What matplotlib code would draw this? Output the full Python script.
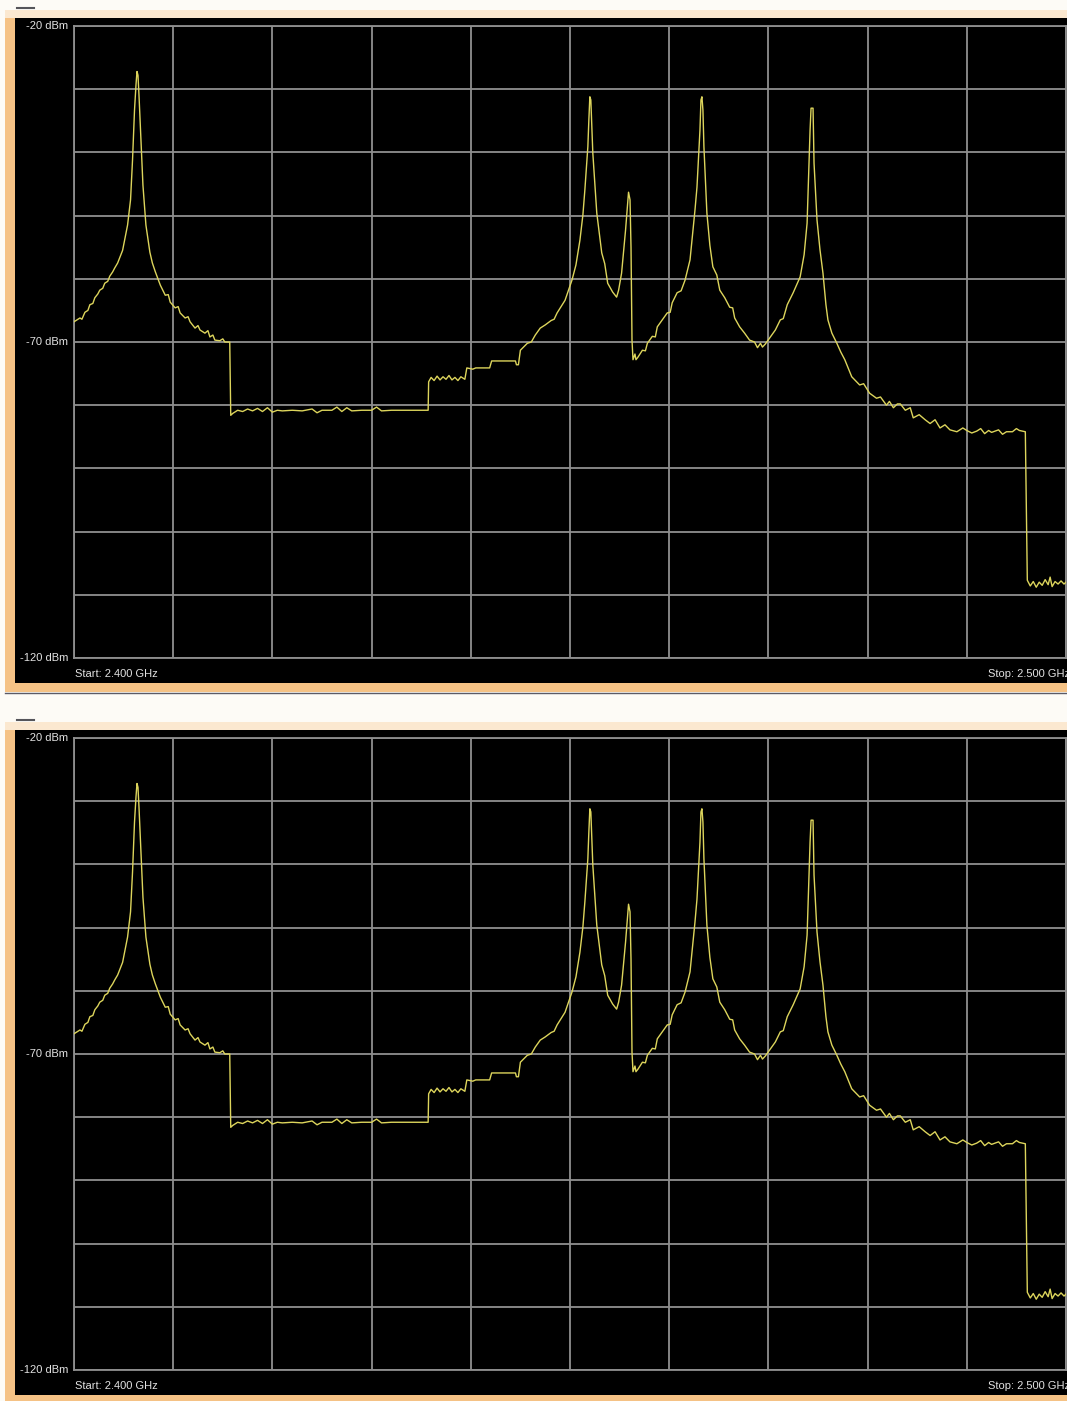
import matplotlib.pyplot as plt
from matplotlib.patches import Rectangle

# spectrum trace, frequency in MHz, level in dBm (same capture on both screens)
freq_mhz = [
    2400.0, 2400.3, 2400.6, 2400.8, 2401.1, 2401.4, 2401.6, 2401.9, 2402.1, 2402.4,
    2402.6, 2402.9, 2403.1, 2403.4, 2403.6, 2403.9, 2404.1, 2404.4, 2404.6, 2404.9,
    2405.1, 2405.4, 2405.7, 2405.9, 2406.1, 2406.25, 2406.35, 2406.45, 2406.55, 2406.75,
    2406.95, 2407.25, 2407.65, 2407.9, 2408.2, 2408.7, 2409.2, 2409.5, 2409.7, 2410.2,
    2410.5, 2410.7, 2411.2, 2411.5, 2411.7, 2412.2, 2412.5, 2412.7, 2413.2, 2413.5,
    2413.7, 2414.0, 2414.2, 2414.7, 2415.0, 2415.2, 2415.7,
    2415.8, 2416.0, 2416.5, 2417.0, 2417.5, 2418.0, 2418.5, 2419.0, 2419.5, 2420.0,
    2420.5, 2421.0, 2422.0, 2423.0, 2424.0, 2424.5, 2425.0, 2426.0, 2426.5, 2427.0,
    2427.5, 2428.0, 2429.0, 2430.0, 2430.5, 2431.0, 2432.0, 2433.0, 2434.0, 2435.0,
    2435.7,
    2435.75, 2436.0, 2436.3, 2436.6, 2436.9, 2437.2, 2437.5, 2437.8, 2438.1, 2438.4,
    2438.7, 2439.0, 2439.4, 2439.6, 2440.2, 2440.5, 2441.9, 2442.1, 2444.5, 2444.6,
    2444.8, 2445.0, 2445.7, 2446.1, 2446.5, 2447.0, 2447.5, 2448.1, 2448.4, 2448.7,
    2449.5, 2450.2, 2450.6, 2451.0, 2451.3, 2451.5, 2451.8, 2451.9, 2452.0, 2452.1,
    2452.3, 2452.7, 2453.2, 2453.5, 2453.8, 2454.3, 2454.7, 2454.9, 2455.2, 2455.6,
    2455.8, 2455.9, 2456.05, 2456.15, 2456.25, 2456.35, 2456.55, 2456.65, 2456.85, 2457.3,
    2457.6, 2457.8, 2458.3, 2458.6, 2458.8, 2459.3, 2459.8, 2460.1, 2460.3, 2460.8,
    2461.2, 2461.6, 2462.1, 2462.3, 2462.6, 2462.8, 2463.0, 2463.1, 2463.2, 2463.3,
    2463.4, 2463.5, 2463.8, 2464.1, 2464.4, 2464.8, 2465.1, 2465.6, 2466.1, 2466.4,
    2466.6, 2467.1, 2467.6, 2468.1, 2468.6, 2468.9, 2469.2, 2469.4, 2469.7, 2470.2,
    2470.7, 2471.2, 2471.5, 2471.9, 2472.5, 2473.2, 2473.6, 2473.9, 2474.1, 2474.2,
    2474.3, 2474.5, 2474.6, 2474.9, 2475.2, 2475.5, 2475.8, 2476.0, 2476.4, 2476.9,
    2477.3, 2477.7, 2478.4, 2479.2, 2479.6, 2480.2, 2480.9, 2481.3, 2481.9, 2482.2,
    2482.6, 2483.0, 2483.3, 2483.8, 2484.3, 2484.6, 2485.2, 2485.8, 2486.3, 2486.8,
    2487.3, 2487.8, 2488.3, 2489.0, 2489.6, 2490.0, 2490.5, 2491.0, 2491.4, 2491.8,
    2492.2, 2492.5, 2493.2, 2493.6, 2494.0, 2494.6, 2495.0, 2495.3, 2495.9,
    2496.1, 2496.4, 2496.7, 2497.0, 2497.3, 2497.6, 2497.9, 2498.2, 2498.4, 2498.6,
    2498.9, 2499.2, 2499.5, 2499.8, 2500.0,
]
level_dbm = [
    -66.8, -66.5, -66.2, -66.4, -65.3, -65.0, -64.1, -63.9, -63.0, -62.4,
    -61.8, -61.5, -60.7, -60.4, -59.6, -58.9, -58.3, -57.5, -56.7, -55.5,
    -53.9, -51.5, -47.5, -41.2, -33.3, -29.3, -27.2, -27.8, -30.9, -38.0,
    -45.2, -51.5, -55.8, -57.5, -58.9, -61.0, -62.6, -62.5, -63.7, -64.6,
    -64.4, -65.4, -66.2, -66.0, -66.8, -67.8, -67.4, -68.1, -68.6, -68.2,
    -69.2, -68.9, -69.7, -69.8, -69.5, -70.0, -70.0,
    -81.6, -81.3, -80.8, -81.0, -80.6, -80.9, -80.5, -81.0, -80.4, -81.1,
    -80.8, -80.9, -80.8, -80.9, -80.6, -81.2, -80.8, -80.8, -80.3, -81.0,
    -80.4, -80.9, -80.8, -80.8, -80.3, -80.9, -80.8, -80.8, -80.8, -80.8,
    -80.8,
    -76.3, -75.6, -76.1, -75.4, -76.0, -75.5, -75.9, -75.3, -76.0, -75.6,
    -76.1, -75.5, -75.9, -74.1, -74.3, -74.1, -74.1, -73.0, -73.0, -73.6,
    -73.6, -71.3, -70.2, -70.0, -68.9, -67.8, -67.3, -66.6, -66.4, -65.4,
    -63.4, -60.2, -57.8, -53.9, -49.9, -45.9, -39.1, -34.9, -31.2, -31.7,
    -40.1, -49.6, -55.9, -57.6, -60.7, -62.1, -62.9, -61.8, -59.1, -52.3,
    -48.3, -46.3, -47.5, -55.0, -69.7, -72.8, -71.9, -72.8, -72.4, -71.3,
    -71.4, -70.2, -69.1, -69.2, -67.6, -66.5, -65.4, -65.3, -63.8, -62.2,
    -61.9, -60.2, -57.0, -53.9, -49.1, -45.5, -39.6, -36.5, -31.7, -31.2,
    -33.3, -39.1, -49.6, -54.7, -58.1, -59.4, -61.8, -63.0, -64.5, -64.6,
    -66.2, -67.6, -68.6, -69.7, -70.0, -70.9, -70.2, -70.8, -70.3, -69.2,
    -68.1, -66.5, -66.3, -64.1, -62.2, -59.7, -56.2, -51.2, -41.7, -36.5,
    -33.0, -33.0, -41.7, -50.7, -55.4, -59.1, -64.1, -66.5, -68.6, -70.2,
    -71.6, -72.8, -75.5, -76.8, -76.6, -78.1, -78.9, -78.7, -80.0, -79.4,
    -80.4, -79.8, -79.8, -80.8, -80.4, -82.0, -81.5, -82.3, -82.9, -82.3,
    -83.6, -83.1, -83.9, -84.2, -83.6, -84.0, -84.4, -84.1, -83.7, -84.5,
    -84.0, -84.3, -83.9, -84.6, -84.2, -84.2, -83.7, -84.0, -84.2,
    -107.7, -108.6, -107.9, -108.8, -108.0, -108.5, -107.6, -108.4, -107.2, -108.7,
    -107.9, -108.3, -107.8, -108.3, -108.0,
]

ref_labels = ['-20 dBm', '-70 dBm', '-120 dBm']
ref_levels = [-20, -70, -120]
start_label = 'Start: 2.400 GHz'
stop_label = 'Stop: 2.500 GHz'

W, H = 1067, 1401
fig = plt.figure(figsize=(W / 100, H / 100), dpi=100)
fig.patch.set_facecolor('#fdfbf6')

label_font = ['Liberation Sans Narrow', 'Liberation Sans', 'DejaVu Sans']


def px(x, y):
    return x / W, 1 - y / H


def draw_screen(top):
    # top = pixel row of the -20 dBm line
    frame_y0 = top - 16
    # orange window frame (kept below the axes)
    x0, y1 = px(5, frame_y0)
    _, y0 = px(0, top + 666)
    fig.add_artist(Rectangle((x0, y0), 1 - x0 + 0.01, y1 - y0, transform=fig.transFigure,
                             facecolor='#f5c285', edgecolor='none', zorder=-5))
    _, ty0 = px(0, top - 8)
    fig.add_artist(Rectangle((x0, ty0), 1 - x0 + 0.01, y1 - ty0, transform=fig.transFigure,
                             facecolor='#fbe8d0', edgecolor='none', zorder=-4))
    # thin dark edge along the bottom of the frame
    lx0, ly = px(5, top + 667)
    fig.add_artist(plt.Line2D([lx0, 1.0], [ly, ly], transform=fig.transFigure,
                              color='#5a5a66', lw=1.0, zorder=-3))
    dx0, dy = px(17, frame_y0 - 2)
    dx1, _ = px(34, 0)
    fig.add_artist(plt.Line2D([dx0, dx1], [dy, dy], transform=fig.transFigure,
                              color='#55555a', lw=1.5, zorder=-3))
    # black screen
    bx0, by1 = px(15, top - 8)
    _, by0 = px(0, top + 657)
    fig.add_artist(Rectangle((bx0, by0), 1 - bx0 + 0.01, by1 - by0, transform=fig.transFigure,
                             facecolor='black', edgecolor='none', zorder=-2))

    left, ax_top = px(74, top)
    right, ax_bot = px(1066, top + 632)
    ax = fig.add_axes([left, ax_bot, right - left, ax_top - ax_bot])
    ax.set_facecolor('black')
    ax.plot(freq_mhz, level_dbm, color='#ddd55c', lw=1.0, zorder=3)
    ax.set_xlim(2400, 2500)
    ax.set_ylim(-120, -20)
    ax.set_xticks(range(2400, 2501, 10))
    ax.set_yticks(range(-120, -19, 10))
    ax.grid(True, color='#8f8f8f', lw=1.3)
    ax.tick_params(length=0, labelbottom=False, labelleft=False)
    for s in ax.spines.values():
        s.set_color('#8f8f8f')
        s.set_linewidth(1.3)

    for lab, lev in zip(ref_labels, ref_levels):
        ax.text(-0.006, (lev + 120) / 100, lab, transform=ax.transAxes, ha='right',
                va='center', color='#e2e2e2', fontsize=8, family=label_font)
    ax.text(0.001, -0.025, start_label, transform=ax.transAxes, ha='left', va='center',
            color='#e2e2e2', fontsize=8, family=label_font)
    ax.text(1.004, -0.025, stop_label, transform=ax.transAxes, ha='right', va='center',
            color='#e2e2e2', fontsize=8, family=label_font, clip_on=False)
    return ax


draw_screen(26)
draw_screen(738)

fig.savefig('out.png', dpi=100, facecolor=fig.get_facecolor())
